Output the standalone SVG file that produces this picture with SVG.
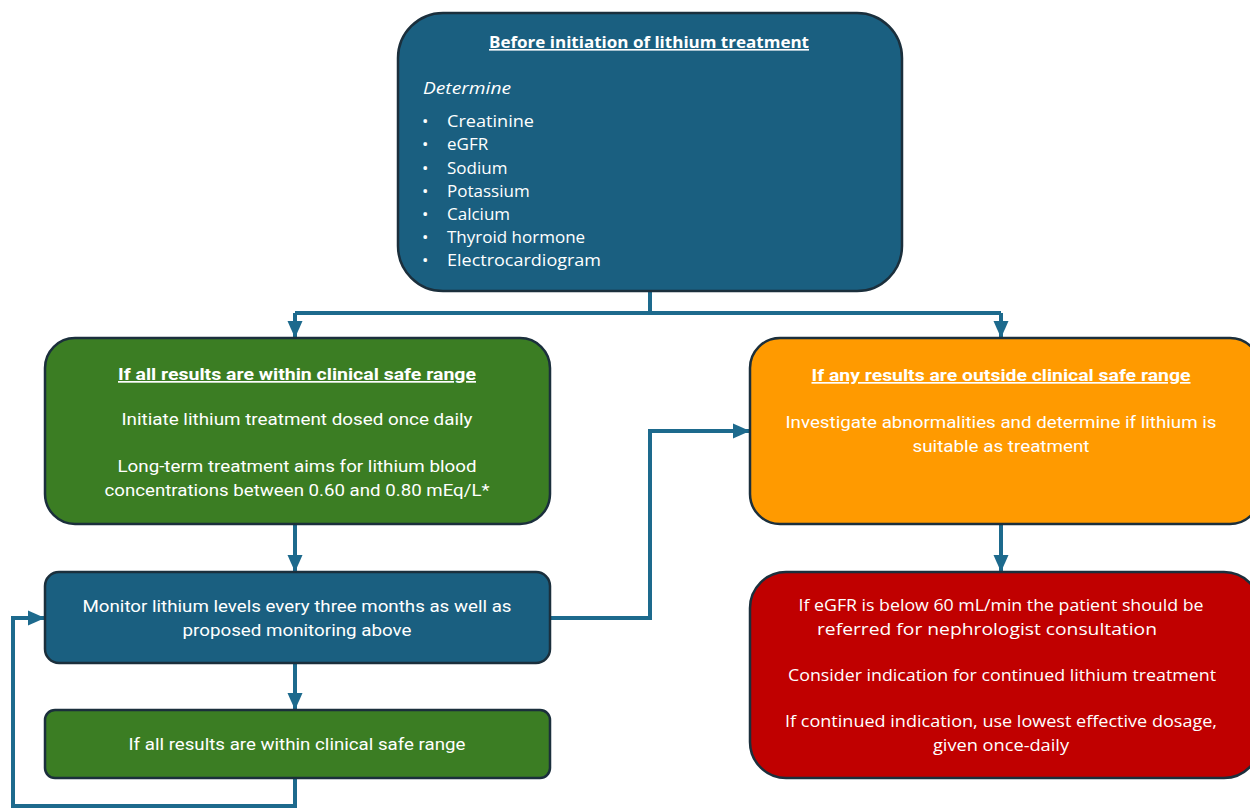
<svg xmlns="http://www.w3.org/2000/svg" width="1250" height="808" viewBox="0 0 1250 808">
<defs>
<style>
.box{stroke:#1b2f3c;stroke-width:2.5}
.t{fill:#ffffff;font-family:"Open Sans","Liberation Sans",sans-serif;font-size:16px}
.l{font-size:17px}
.c{fill:#ffffff;font-family:Roboto,"Liberation Sans",sans-serif;font-size:17px;text-anchor:middle}
.m{text-anchor:middle}
.b{font-weight:bold;text-decoration:underline}
.conn{fill:none;stroke:#1d6a8d;stroke-width:4}
</style>
<marker id="ah" markerUnits="userSpaceOnUse" markerWidth="18" markerHeight="18" viewBox="0 0 18 18" refX="16" refY="9" orient="auto">
<path d="M0,1.5 L17,9 L0,16.5 Z" fill="#1d6a8d"/>
</marker>
</defs>
<rect width="1250" height="808" fill="#ffffff"/>
<g id="connectors">
<path class="conn" d="M650,291 V313"/>
<path class="conn" d="M295,313 H1001"/>
<path class="conn" d="M295,313 V337" marker-end="url(#ah)"/>
<path class="conn" d="M1001,313 V337" marker-end="url(#ah)"/>
<path class="conn" d="M295,524 V571" marker-end="url(#ah)"/>
<path class="conn" d="M295,663 V709" marker-end="url(#ah)"/>
<path class="conn" d="M295,778 V806 H13 V618 H44" marker-end="url(#ah)"/>
<path class="conn" d="M550,618 H650 V431 H749" marker-end="url(#ah)"/>
<path class="conn" d="M1001,524 V571" marker-end="url(#ah)"/>
</g>
<g id="n-before">
<rect class="box" x="398" y="13" width="504" height="278" rx="45" fill="#1a5f80"/>
<text class="t m b" x="649" y="48" textLength="320" lengthAdjust="spacingAndGlyphs">Before initiation of lithium treatment</text>
<text class="t l" x="423" y="94" font-style="italic" textLength="88" lengthAdjust="spacingAndGlyphs">Determine</text>
<g class="t l">
<text x="422" y="127">•</text><text x="447" y="127" textLength="87" lengthAdjust="spacingAndGlyphs">Creatinine</text>
<text x="422" y="150">•</text><text x="447" y="150">eGFR</text>
<text x="422" y="174">•</text><text x="447" y="174">Sodium</text>
<text x="422" y="197">•</text><text x="447" y="197">Potassium</text>
<text x="422" y="220">•</text><text x="447" y="220">Calcium</text>
<text x="422" y="243">•</text><text x="447" y="243">Thyroid hormone</text>
<text x="422" y="266">•</text><text x="447" y="266" textLength="154" lengthAdjust="spacingAndGlyphs">Electrocardiogram</text>
</g>
</g>
<g id="n-within">
<rect class="box" x="45" y="338" width="505" height="186" rx="30" fill="#3b7d23"/>
<text class="c b" x="297" y="380" textLength="358" lengthAdjust="spacingAndGlyphs">If all results are within clinical safe range</text>
<text class="c" x="297" y="425" textLength="351" lengthAdjust="spacingAndGlyphs">Initiate lithium treatment dosed once daily</text>
<text class="c" x="297" y="472" textLength="359" lengthAdjust="spacingAndGlyphs">Long-term treatment aims for lithium blood</text>
<text class="c" x="297" y="496" textLength="385" lengthAdjust="spacingAndGlyphs">concentrations between 0.60 and 0.80 mEq/L*</text>
</g>
<g id="n-outside">
<rect class="box" x="750" y="338" width="510" height="186" rx="30" fill="#ff9a00"/>
<text class="c b" x="1001" y="381" textLength="379" lengthAdjust="spacingAndGlyphs">If any results are outside clinical safe range</text>
<text class="c" x="1001" y="428" textLength="431" lengthAdjust="spacingAndGlyphs">Investigate abnormalities and determine if lithium is</text>
<text class="c" x="1001" y="452" textLength="177" lengthAdjust="spacingAndGlyphs">suitable as treatment</text>
</g>
<g id="n-monitor">
<rect class="box" x="45" y="572" width="505" height="91" rx="14" fill="#1a5f80"/>
<text class="c" x="297" y="612" textLength="429" lengthAdjust="spacingAndGlyphs">Monitor lithium levels every three months as well as</text>
<text class="c" x="297" y="636" textLength="229" lengthAdjust="spacingAndGlyphs">proposed monitoring above</text>
</g>
<g id="n-within2">
<rect class="box" x="45" y="710" width="505" height="68" rx="10" fill="#3b7d23"/>
<text class="c" x="297" y="750" textLength="337" lengthAdjust="spacingAndGlyphs">If all results are within clinical safe range</text>
</g>
<g id="n-egfr">
<rect class="box" x="750" y="572" width="510" height="206" rx="36" fill="#c00000"/>
<text class="t m" x="1001" y="611" textLength="405" lengthAdjust="spacingAndGlyphs">If eGFR is below 60 mL/min the patient should be</text>
<text class="t m" x="987" y="635" textLength="340" lengthAdjust="spacingAndGlyphs">referred for nephrologist consultation</text>
<text class="t m" x="1002" y="681" textLength="428" lengthAdjust="spacingAndGlyphs">Consider indication for continued lithium treatment</text>
<text class="t m" x="1001" y="727" textLength="432" lengthAdjust="spacingAndGlyphs">If continued indication, use lowest effective dosage,</text>
<text class="t m" x="1001" y="751" textLength="136" lengthAdjust="spacingAndGlyphs">given once-daily</text>
</g>
</svg>
